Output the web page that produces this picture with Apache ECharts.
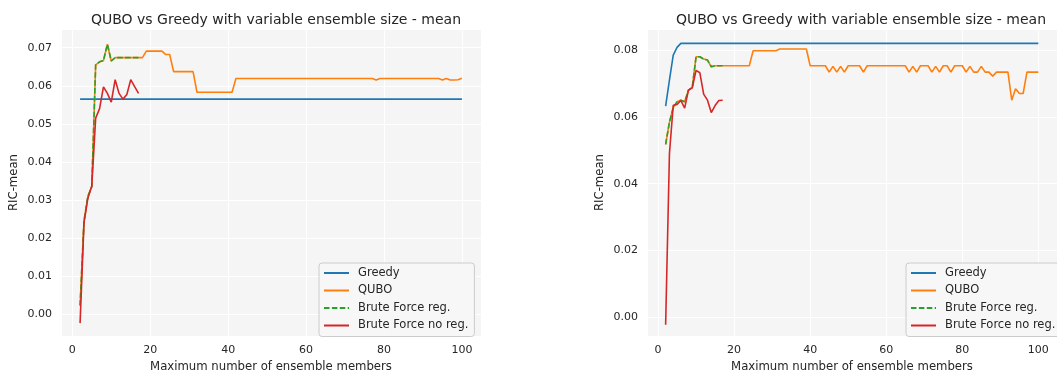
<!DOCTYPE html>
<html>
<head>
<meta charset="utf-8">
<script src="https://cdn.jsdelivr.net/npm/echarts@6/dist/echarts.min.js"></script>
<style>
  html, body { margin: 0; padding: 0; background: #ffffff; }
  #chart { width: 1057px; height: 378px; }
</style>
</head>
<body>
<div id="chart"></div>
<script>
// Ensemble sizes evaluated: 2..100 (brute force only up to 17)
const sizes = [];
for (let n = 2; n <= 100; n++) sizes.push(n);
const bfSizes = sizes.slice(0, 16);

const seriesNames = ['Greedy', 'QUBO', 'Brute Force reg.', 'Brute Force no reg.'];
const chartTitle = 'QUBO vs Greedy with variable ensemble size - mean';
const xAxisName = 'Maximum number of ensemble members';
const yAxisName = 'RIC-mean';

// ---- Left panel ----
const leftGreedy = [
  0.0565, 0.0565, 0.0565, 0.0565, 0.0565, 0.0565, 0.0565, 0.0565, 0.0565, 0.0565,
  0.0565, 0.0565, 0.0565, 0.0565, 0.0565, 0.0565, 0.0565, 0.0565, 0.0565, 0.0565,
  0.0565, 0.0565, 0.0565, 0.0565, 0.0565, 0.0565, 0.0565, 0.0565, 0.0565, 0.0565,
  0.0565, 0.0565, 0.0565, 0.0565, 0.0565, 0.0565, 0.0565, 0.0565, 0.0565, 0.0565,
  0.0565, 0.0565, 0.0565, 0.0565, 0.0565, 0.0565, 0.0565, 0.0565, 0.0565, 0.0565,
  0.0565, 0.0565, 0.0565, 0.0565, 0.0565, 0.0565, 0.0565, 0.0565, 0.0565, 0.0565,
  0.0565, 0.0565, 0.0565, 0.0565, 0.0565, 0.0565, 0.0565, 0.0565, 0.0565, 0.0565,
  0.0565, 0.0565, 0.0565, 0.0565, 0.0565, 0.0565, 0.0565, 0.0565, 0.0565, 0.0565,
  0.0565, 0.0565, 0.0565, 0.0565, 0.0565, 0.0565, 0.0565, 0.0565, 0.0565, 0.0565,
  0.0565, 0.0565, 0.0565, 0.0565, 0.0565, 0.0565, 0.0565, 0.0565, 0.0565
];
const leftQubo = [
  0.0023, 0.0245, 0.0310, 0.0335, 0.0655, 0.0663, 0.0666, 0.0709, 0.0665,
  0.0674, 0.0674, 0.0674, 0.0674, 0.0674, 0.0674, 0.0674, 0.0674,
  0.0691, 0.0691, 0.0691, 0.0691, 0.0691,
  0.0682, 0.0682,
  0.0637, 0.0637, 0.0637, 0.0637, 0.0637, 0.0637,
  0.0583, 0.0583, 0.0583, 0.0583, 0.0583, 0.0583, 0.0583, 0.0583, 0.0583, 0.0583,
  0.0619, 0.0619, 0.0619, 0.0619, 0.0619, 0.0619, 0.0619, 0.0619, 0.0619, 0.0619,
  0.0619, 0.0619, 0.0619, 0.0619, 0.0619, 0.0619, 0.0619, 0.0619, 0.0619, 0.0619,
  0.0619, 0.0619, 0.0619, 0.0619, 0.0619, 0.0619, 0.0619, 0.0619, 0.0619, 0.0619,
  0.0619, 0.0619, 0.0619, 0.0619, 0.0619, 0.0619,
  0.0615,
  0.0619, 0.0619, 0.0619, 0.0619, 0.0619, 0.0619, 0.0619, 0.0619,
  0.0619, 0.0619, 0.0619, 0.0619, 0.0619, 0.0619, 0.0619, 0.0619,
  0.0615, 0.0619, 0.0615, 0.0615, 0.0616, 0.0620
];
const leftBfReg = [
  0.0023, 0.0245, 0.0310, 0.0335, 0.0655, 0.0663, 0.0666, 0.0709, 0.0665,
  0.0674, 0.0674, 0.0674, 0.0674, 0.0674, 0.0674, 0.0674
];
const leftBfNoReg = [
  -0.0023, 0.0240, 0.0305, 0.0337, 0.0515, 0.0540, 0.0597, 0.0580, 0.0557,
  0.0616, 0.0580, 0.0565, 0.0577, 0.0616, 0.0598, 0.0580
];

// ---- Right panel ----
const rightGreedy = [
  0.0632, 0.0710, 0.0785, 0.0808,
  0.0820, 0.0820, 0.0820, 0.0820, 0.0820, 0.0820, 0.0820, 0.0820, 0.0820, 0.0820,
  0.0820, 0.0820, 0.0820, 0.0820, 0.0820, 0.0820, 0.0820, 0.0820, 0.0820, 0.0820,
  0.0820, 0.0820, 0.0820, 0.0820, 0.0820, 0.0820, 0.0820, 0.0820, 0.0820, 0.0820,
  0.0820, 0.0820, 0.0820, 0.0820, 0.0820, 0.0820, 0.0820, 0.0820, 0.0820, 0.0820,
  0.0820, 0.0820, 0.0820, 0.0820, 0.0820, 0.0820, 0.0820, 0.0820, 0.0820, 0.0820,
  0.0820, 0.0820, 0.0820, 0.0820, 0.0820, 0.0820, 0.0820, 0.0820, 0.0820, 0.0820,
  0.0820, 0.0820, 0.0820, 0.0820, 0.0820, 0.0820, 0.0820, 0.0820, 0.0820, 0.0820,
  0.0820, 0.0820, 0.0820, 0.0820, 0.0820, 0.0820, 0.0820, 0.0820, 0.0820, 0.0820,
  0.0820, 0.0820, 0.0820, 0.0820, 0.0820, 0.0820, 0.0820, 0.0820, 0.0820, 0.0820,
  0.0820, 0.0820, 0.0820, 0.0820, 0.0820
];
const rightQubo = [
  0.0518, 0.0584, 0.0628, 0.0645, 0.0650, 0.0645, 0.0680, 0.0688,
  0.0780, 0.0780, 0.0773, 0.0770, 0.0750, 0.0753, 0.0753, 0.0753,
  0.0753, 0.0753, 0.0753, 0.0753, 0.0753, 0.0753, 0.0753,
  0.0798, 0.0798, 0.0798, 0.0798, 0.0798, 0.0798, 0.0798,
  0.0803, 0.0803, 0.0803, 0.0803, 0.0803, 0.0803, 0.0803, 0.0803,
  0.0753, 0.0753, 0.0753, 0.0753, 0.0753,
  0.0734, 0.0751, 0.0734, 0.0751, 0.0734,
  0.0753, 0.0753, 0.0753, 0.0753,
  0.0734,
  0.0753, 0.0753, 0.0753, 0.0753, 0.0753, 0.0753, 0.0753, 0.0753, 0.0753, 0.0753, 0.0753,
  0.0734, 0.0751, 0.0734,
  0.0753, 0.0753, 0.0753,
  0.0734, 0.0751, 0.0734,
  0.0753, 0.0753,
  0.0734,
  0.0753, 0.0753, 0.0753,
  0.0734, 0.0751, 0.0734, 0.0734, 0.0751, 0.0734, 0.0734, 0.0722,
  0.0734, 0.0734, 0.0734, 0.0734,
  0.0650, 0.0684, 0.0670, 0.0670,
  0.0734, 0.0734, 0.0734, 0.0734
];
const rightBfReg = [
  0.0518, 0.0584, 0.0628, 0.0645, 0.0650, 0.0645, 0.0680, 0.0688,
  0.0780, 0.0780, 0.0773, 0.0770, 0.0750, 0.0753, 0.0753, 0.0753
];
const rightBfNoReg = [
  -0.0022, 0.0490, 0.0635, 0.0637, 0.0649, 0.0626, 0.0680, 0.0687,
  0.0739, 0.0732, 0.0668, 0.0650, 0.0613, 0.0634, 0.0649, 0.0650
];

const palette = ['#1f77b4', '#ff7f0e', '#2ca02c', '#d62728'];
const FONT = 'DejaVu Sans';
const TEXT = '#262626';

const pairs = (xs, ys) => ys.map((v, i) => [xs[i], v]);

function lineSeries(name, xs, ys, idx, color, dashed) {
  return {
    name: name,
    type: 'line',
    xAxisIndex: idx,
    yAxisIndex: idx,
    data: pairs(xs, ys),
    symbol: 'none',
    showSymbol: false,
    animation: false,
    lineStyle: { color: color, width: 1.6, type: dashed ? [5.5, 2.4] : 'solid', cap: 'butt' },
    itemStyle: { color: color },
    emphasis: { disabled: true }
  };
}

function xAxisFor(gridIndex) {
  return {
    type: 'value',
    gridIndex: gridIndex,
    min: -2.9,
    max: 104.9,
    minInterval: 20,
    maxInterval: 20,
    name: xAxisName,
    nameLocation: 'middle',
    nameGap: 23,
    nameTextStyle: { fontFamily: FONT, fontSize: 11.7, color: TEXT },
    axisLine: { show: false },
    axisTick: { show: false },
    axisLabel: {
      fontFamily: FONT, fontSize: 11, color: TEXT, margin: 9,
      showMinLabel: false, showMaxLabel: false,
      formatter: v => String(Math.round(v))
    },
    splitLine: { show: true, lineStyle: { color: '#ffffff', width: 1 } }
  };
}

function yAxisFor(gridIndex, lo, hi, step) {
  return {
    type: 'value',
    gridIndex: gridIndex,
    min: lo,
    max: hi,
    minInterval: step,
    maxInterval: step,
    name: yAxisName,
    nameLocation: 'middle',
    nameGap: 41,
    nameTextStyle: { fontFamily: FONT, fontSize: 11.7, color: TEXT },
    axisLine: { show: false },
    axisTick: { show: false },
    axisLabel: {
      fontFamily: FONT, fontSize: 11, color: TEXT, margin: 9,
      showMinLabel: false, showMaxLabel: false,
      formatter: v => v.toFixed(2)
    },
    splitLine: { show: true, lineStyle: { color: '#ffffff', width: 1 } }
  };
}

function legendAt(left) {
  return {
    orient: 'vertical',
    left: left,
    top: 263,
    data: seriesNames,
    itemWidth: 25,
    itemHeight: 10,
    itemGap: 3.5,
    padding: [3, 6, 4, 4],
    backgroundColor: 'rgba(247,247,247,0.85)',
    borderColor: '#cccccc',
    borderWidth: 1,
    borderRadius: 3,
    selectedMode: false,
    // line-only keys: hide the marker drawn in the middle of each key
    itemStyle: { opacity: 0, borderWidth: 0 },
    textStyle: { fontFamily: FONT, fontSize: 11.5, color: TEXT, lineHeight: 14, padding: [0, 0, 0, 4] }
  };
}

const option = {
  backgroundColor: '#ffffff',
  animation: false,
  title: [
    { text: chartTitle, left: 271, top: 8, textAlign: 'center',
      textStyle: { fontFamily: FONT, fontSize: 14, fontWeight: 'normal', color: TEXT } },
    { text: chartTitle, left: 856, top: 8, textAlign: 'center',
      textStyle: { fontFamily: FONT, fontSize: 14, fontWeight: 'normal', color: TEXT } }
  ],
  grid: [
    { left: 61, top: 29, width: 420, height: 312, show: true, backgroundColor: '#f5f5f5', borderWidth: 0, containLabel: false },
    { left: 647, top: 29, width: 419, height: 312, show: true, backgroundColor: '#f5f5f5', borderWidth: 0, containLabel: false }
  ],
  xAxis: [xAxisFor(0), xAxisFor(1)],
  yAxis: [yAxisFor(0, -0.0057, 0.0749, 0.01), yAxisFor(1, -0.0056, 0.0863, 0.02)],
  legend: [legendAt(319), legendAt(906)],
  series: [
    lineSeries(seriesNames[0], sizes, leftGreedy, 0, palette[0], false),
    lineSeries(seriesNames[1], sizes, leftQubo, 0, palette[1], false),
    lineSeries(seriesNames[2], bfSizes, leftBfReg, 0, palette[2], true),
    lineSeries(seriesNames[3], bfSizes, leftBfNoReg, 0, palette[3], false),
    lineSeries(seriesNames[0], sizes, rightGreedy, 1, palette[0], false),
    lineSeries(seriesNames[1], sizes, rightQubo, 1, palette[1], false),
    lineSeries(seriesNames[2], bfSizes, rightBfReg, 1, palette[2], true),
    lineSeries(seriesNames[3], bfSizes, rightBfNoReg, 1, palette[3], false)
  ]
};

const chart = echarts.init(document.getElementById('chart'), null, { renderer: 'canvas' });
chart.setOption(option);
</script>
</body>
</html>
